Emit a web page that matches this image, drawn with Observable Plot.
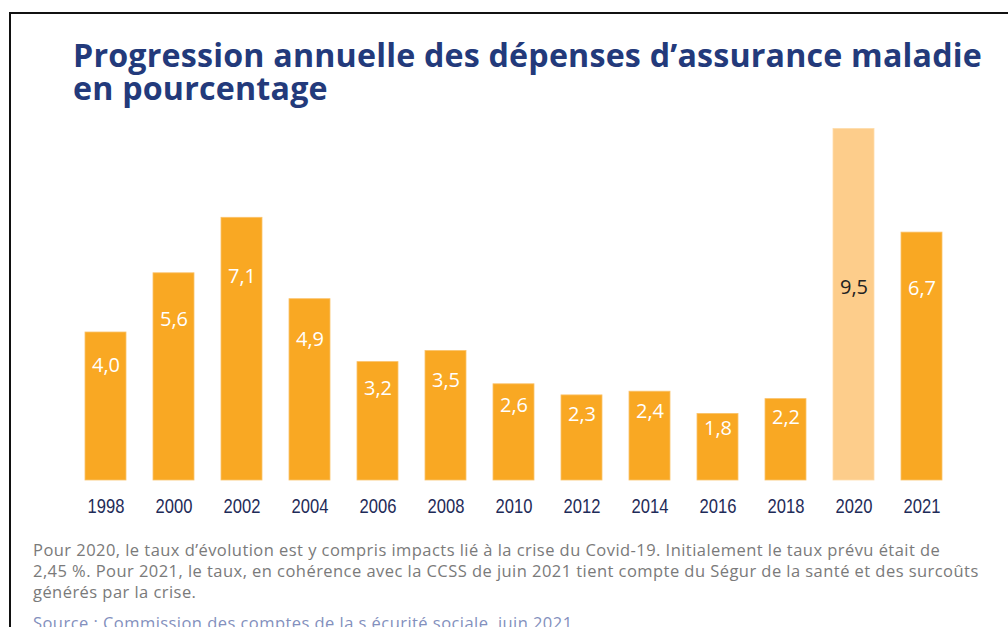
<!DOCTYPE html>
<html>
<head>
<meta charset="utf-8">
<script src="https://cdn.jsdelivr.net/npm/d3@7"></script>
<script src="https://cdn.jsdelivr.net/npm/@observablehq/plot@0.6"></script>
<style>
  html, body { margin: 0; padding: 0; background: #fff; }
  #page { position: relative; width: 1008px; height: 627px; overflow: hidden; }
  #frame { position: absolute; left: 9px; top: 12px; right: 0; bottom: -10px;
           border-top: 2px solid #111; border-left: 2px solid #111; pointer-events: none; }
  #title { position: absolute; left: 73px; top: 38px; margin: 0;
           font-family: "Open Sans", sans-serif; font-weight: 700; font-size: 32.2px;
           line-height: 33px; letter-spacing: 0.2px; color: #233A7B; white-space: nowrap; }
  #chart { position: absolute; left: 0; top: 110px; }
  #note { position: absolute; left: 33px; top: 539px; font-family: "Open Sans", sans-serif;
          font-size: 16.5px; line-height: 21px; letter-spacing: 0.45px; color: #7a7a7a; white-space: nowrap; }
  #source { position: absolute; left: 33px; top: 612px; font-family: "Open Sans", sans-serif;
          font-size: 16.5px; line-height: 21px; letter-spacing: 0.45px; color: #8390BD; white-space: nowrap; }
</style>
</head>
<body>
<div id="page">
  <div id="frame"></div>
  <h1 id="title">Progression annuelle des dépenses d’assurance maladie<br>en pourcentage</h1>
  <div id="chart"></div>
  <div id="note">Pour 2020, le taux d’évolution est y compris impacts lié à la crise du Covid-19. Initialement le taux prévu était de<br>2,45 %. Pour 2021, le taux, en cohérence avec la CCSS de juin 2021 tient compte du Ségur de la santé et des surcoûts<br>générés par la crise.</div>
  <div id="source">Source : Commission des comptes de la s écurité sociale, juin 2021.</div>
</div>
<script>
const years = ["1998","2000","2002","2004","2006","2008","2010","2012","2014","2016","2018","2020","2021"];
const values = [4.0, 5.6, 7.1, 4.9, 3.2, 3.5, 2.6, 2.3, 2.4, 1.8, 2.2, 9.5, 6.7];
const highlighted = ["2020"];

const data = years.map((year, i) => ({year, value: values[i], light: highlighted.includes(year)}));
const fmt = v => v.toFixed(1).replace(".", ",");

const chart = Plot.plot({
  width: 1008,
  height: 420,
  marginTop: 18.5,
  marginBottom: 50,
  marginLeft: 57.5,
  marginRight: 39.3,
  style: {background: "transparent", overflow: "visible"},
  x: {domain: years, padding: 0.4, label: null, tickSize: 0, tickPadding: 19},
  y: {domain: [0, 9.5], axis: null},
  marks: [
    Plot.barY(data, {
      x: "year", y: "value",
      fill: d => d.light ? "#FDCD8B" : "#F9A823",
      stroke: d => d.light ? "#FEDDAA" : "#FBC26A",
      strokeWidth: 0.8
    }),
    Plot.text(data, {
      x: "year",
      y: d => d.light ? d.value * 0.55 : d.value * 0.775,
      text: d => fmt(d.value),
      fill: d => d.light ? "#222222" : "#ffffff",
      fontSize: 20,
      fontFamily: "Open Sans"
    }),
    Plot.axisX({
      tickSize: 0, tickPadding: 19, label: null,
      fontSize: 19.5, fontFamily: "Liberation Sans", fill: "#1E2B58"
    })
  ]
});
chart.querySelectorAll("[aria-label='x-axis tick label'] text").forEach(t => {
  t.style.fontSize = "19.5px";
  const tr = t.getAttribute("transform") || "";
  t.setAttribute("transform", tr + " scale(0.85,1)");
});
document.getElementById("chart").appendChild(chart);
</script>
</body>
</html>
